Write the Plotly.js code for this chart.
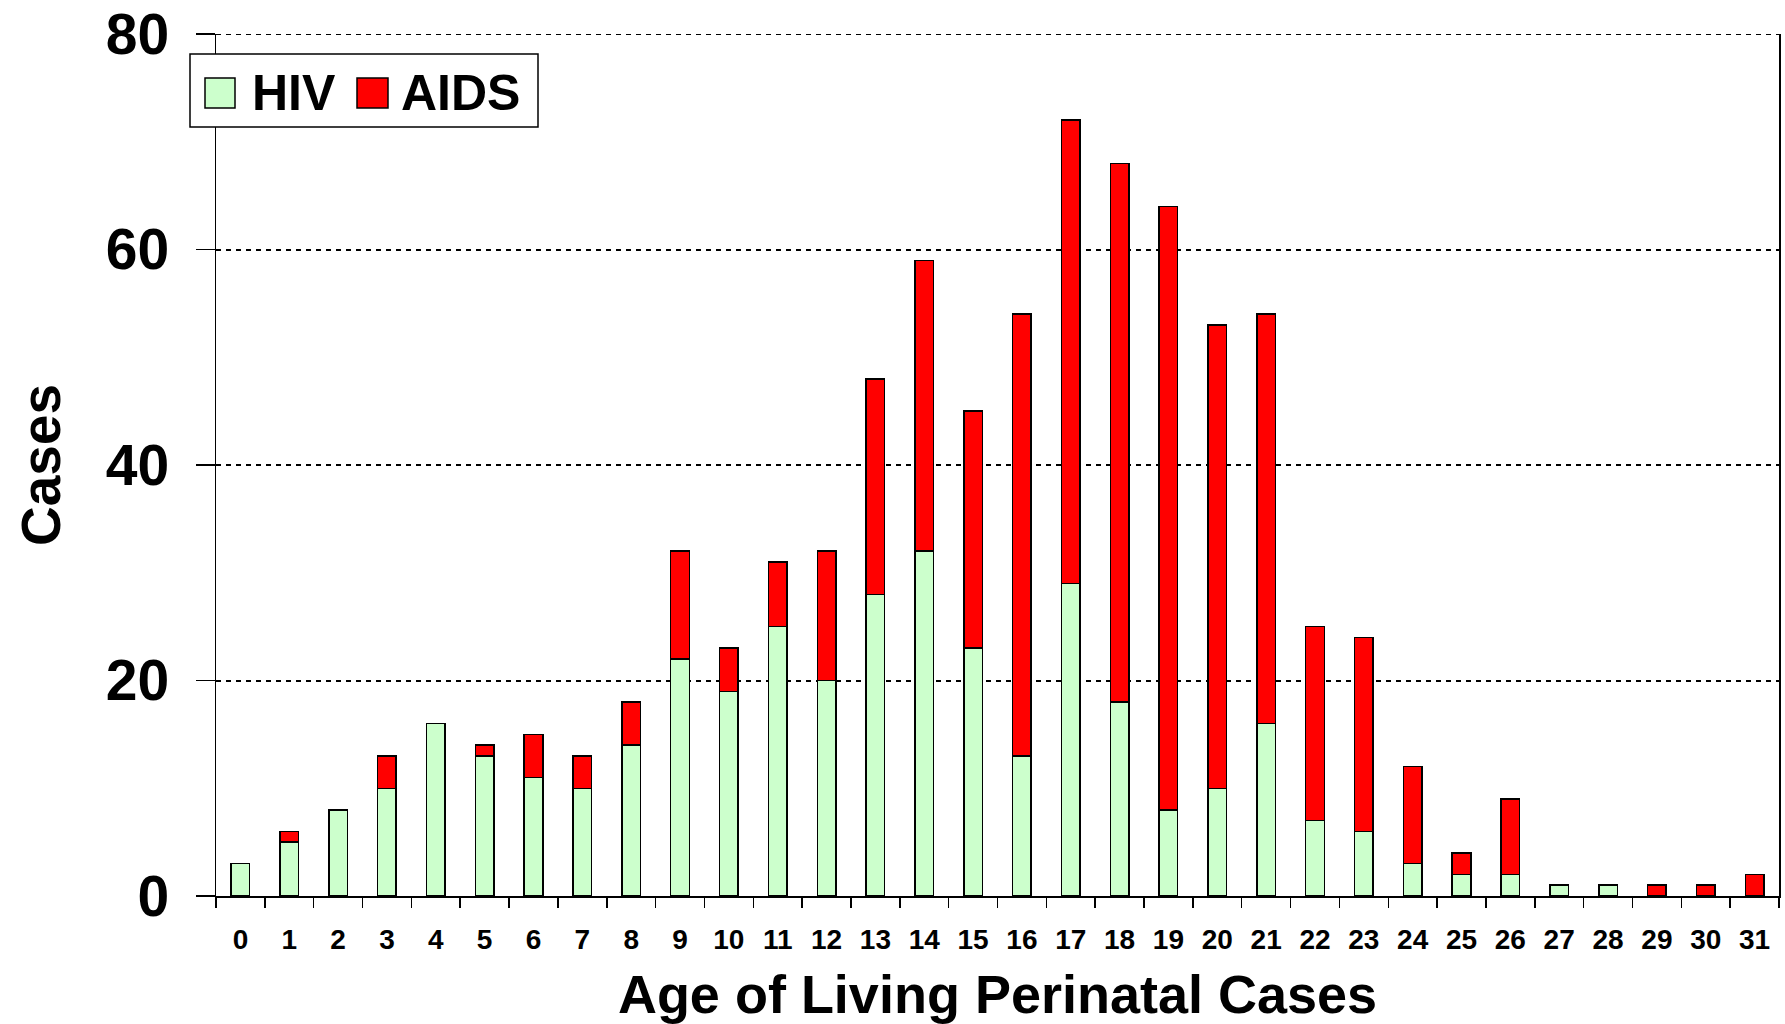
<!DOCTYPE html>
<html>
<head>
<meta charset="utf-8">
<script src="https://cdn.plot.ly/plotly-3.0.1.min.js"></script>
<style>
  html, body { margin: 0; padding: 0; background: #ffffff; }
  #chart { width: 1785px; height: 1024px; }
</style>
</head>
<body>
<div id="chart"></div>
<script>
// ---- Data ----
const ages = ['0','1','2','3','4','5','6','7','8','9','10','11','12','13','14','15',
              '16','17','18','19','20','21','22','23','24','25','26','27','28','29','30','31'];
const hivCases  = [3,5,8,10,16,13,11,10,14,22,19,25,20,28,32,23,13,29,18,8,10,16,7,6,3,2,2,1,1,0,0,0];
const aidsCases = [0,1,0,3,0,1,4,3,4,10,4,6,12,20,27,22,41,43,50,56,43,38,18,18,9,2,7,0,0,1,1,2];
const seriesNames = ['HIV', 'AIDS'];
const seriesColors = ['#CCFFCC', '#FF0000'];
const yTickVals = [0, 20, 40, 60, 80];
const xTitle = 'Age of Living Perinatal Cases';
const yTitle = 'Cases';

// ---- Layout geometry ----
const W = 1785, H = 1024;
const M = { l: 216, r: 6, t: 34, b: 128 };
const plotW = W - M.l - M.r, plotH = H - M.t - M.b;
const px = x => (x - M.l) / plotW;          // pixel x -> paper x
const py = y => (H - M.b - y) / plotH;      // pixel y -> paper y

const FONT = 'Liberation Sans, Arial, Helvetica, sans-serif';
const GRID_DASH = '5px,5px';

const traces = [
  { type: 'bar', name: seriesNames[0], x: ages, y: hivCases,
    marker: { color: seriesColors[0], line: { color: '#000000', width: 1.5 } },
    showlegend: false, hoverinfo: 'x+y+name' },
  { type: 'bar', name: seriesNames[1], x: ages, y: aidsCases,
    marker: { color: seriesColors[1], line: { color: '#000000', width: 1.5 } },
    showlegend: false, hoverinfo: 'x+y+name' }
];

// Top gridline (Plotly skips a gridline lying on the plot edge)
const topGrid = {
  type: 'line', xref: 'paper', yref: 'y', layer: 'below',
  x0: 0, x1: 1, y0: yTickVals[yTickVals.length - 1], y1: yTickVals[yTickVals.length - 1],
  line: { color: '#000000', width: 2, dash: GRID_DASH }
};

// Custom legend (large swatches like the reference)
const legendShapes = [
  { type: 'rect', xref: 'paper', yref: 'paper', layer: 'above',
    x0: px(190), x1: px(538), y0: py(127), y1: py(54),
    fillcolor: '#ffffff', line: { color: '#000000', width: 1.5 } },
  { type: 'rect', xref: 'paper', yref: 'paper', layer: 'above',
    x0: px(205), x1: px(235), y0: py(108), y1: py(78),
    fillcolor: seriesColors[0], line: { color: '#000000', width: 1.5 } },
  { type: 'rect', xref: 'paper', yref: 'paper', layer: 'above',
    x0: px(357), x1: px(388), y0: py(108), y1: py(78),
    fillcolor: seriesColors[1], line: { color: '#000000', width: 1.5 } }
];
const legendAnn = [
  { xref: 'paper', yref: 'paper', x: px(250), y: py(93), xanchor: 'left', yanchor: 'middle',
    text: seriesNames[0], showarrow: false,
    font: { family: FONT, size: 50, weight: 700, color: '#000000' } },
  { xref: 'paper', yref: 'paper', x: px(399), y: py(93), xanchor: 'left', yanchor: 'middle',
    text: seriesNames[1], showarrow: false,
    font: { family: FONT, size: 50, weight: 700, color: '#000000' } }
];

const layout = {
  width: W, height: H,
  margin: { l: M.l, r: M.r, t: M.t, b: M.b, pad: 0 },
  paper_bgcolor: '#ffffff', plot_bgcolor: '#ffffff',
  barmode: 'stack', bargap: 0.62,
  showlegend: false,
  font: { family: FONT, color: '#000000' },
  xaxis: {
    type: 'category',
    showline: true, linecolor: '#000000', linewidth: 2,
    ticks: 'outside', tickson: 'boundaries', ticklen: 10, tickwidth: 1.5, tickcolor: '#000000',
    tickfont: { family: FONT, size: 28, weight: 700, color: '#000000' },
    ticklabelstandoff: 17,
    showgrid: false, zeroline: false,
    title: { text: xTitle, standoff: 22,
             font: { family: FONT, size: 54, weight: 700, color: '#000000' } },
    automargin: false
  },
  yaxis: {
    range: [0, 80], tickvals: yTickVals, ticktext: yTickVals.map(String),
    showline: true, linecolor: '#000000', linewidth: 1.5, mirror: true,
    ticks: 'outside', ticklen: 19, tickwidth: 1.5, tickcolor: '#000000',
    tickfont: { family: FONT, size: 57, weight: 700, color: '#000000' },
    ticklabelstandoff: 15, ticklabeloverflow: 'allow',
    showgrid: true, gridcolor: '#000000', gridwidth: 2, griddash: GRID_DASH,
    zeroline: false,
    title: { text: yTitle, standoff: 27,
             font: { family: FONT, size: 55, weight: 700, color: '#000000' } },
    automargin: false
  },
  shapes: [topGrid].concat(legendShapes),
  annotations: legendAnn
};

Plotly.newPlot('chart', traces, layout, { displayModeBar: false, staticPlot: true });
</script>
</body>
</html>
